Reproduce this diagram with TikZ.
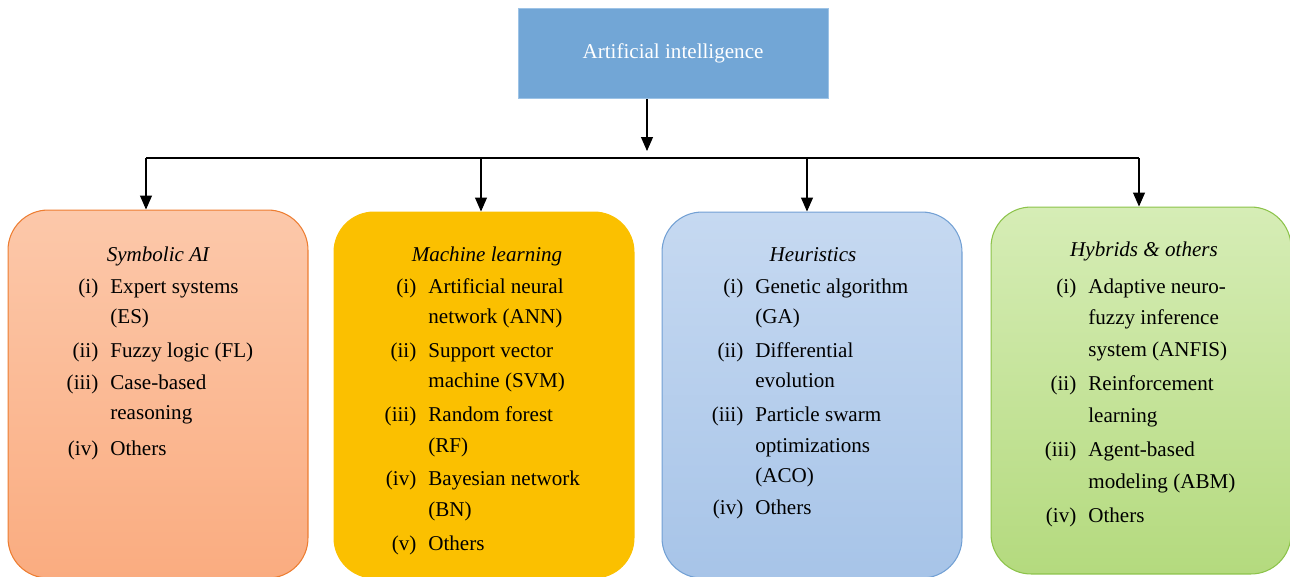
\documentclass[tikz,border=0pt]{standalone}
\usepackage{fontspec}
\setmainfont{Liberation Serif}
\usetikzlibrary{arrows.meta}

\definecolor{aiblue}{RGB}{114,166,214}
\definecolor{aiblueline}{RGB}{157,195,230}
\definecolor{symtop}{RGB}{252,200,170}
\definecolor{symbot}{RGB}{250,172,128}
\definecolor{symline}{RGB}{237,125,49}
\definecolor{mlgold}{RGB}{251,192,0}
\definecolor{heutop}{RGB}{198,217,241}
\definecolor{heubot}{RGB}{167,196,232}
\definecolor{heuline}{RGB}{114,160,212}
\definecolor{hybtop}{RGB}{214,237,182}
\definecolor{hybbot}{RGB}{180,218,126}
\definecolor{hybline}{RGB}{140,195,74}

\newcommand{\enumlbl}[1]{\llap{#1\hspace{0.24cm}}}

\begin{document}
\begin{tikzpicture}[x=0.02cm,y=-0.02cm,
	catbox/.style={rounded corners=0.8cm,minimum width=6cm,line width=0.6pt,inner sep=0pt},
	arr/.style={-{Triangle[length=0.28cm,width=0.24cm]},line width=0.6pt},
	bar/.style={line width=1pt},
	cattitle/.style={font=\fontsize{12}{17.3}\selectfont\itshape,anchor=base,inner sep=0pt},
	catlist/.style={font=\fontsize{12}{17.3}\selectfont,anchor=base west,inner sep=0pt}]
	\useasboundingbox (0,0) rectangle (1290,576);
	% draw top box
	\node[minimum width=6.2cm,minimum height=1.8cm,fill=aiblue,draw=aiblueline,text=white,font=\fontsize{12}{14}\selectfont] (ai) at (673,53.5) {\raisebox{-2.5pt}{Artificial intelligence}};
	% draw category boxes
	\node[catbox,minimum height=7.36cm,top color=symtop,bottom color=symbot,draw=symline] (sym) at (158,394) {};
	\node[catbox,minimum height=7.32cm,fill=mlgold,draw=mlgold] (ml) at (484,395) {};
	\node[catbox,minimum height=7.32cm,top color=heutop,bottom color=heubot,draw=heuline] (heu) at (812,395) {};
	\node[catbox,minimum height=7.34cm,top color=hybtop,bottom color=hybbot,draw=hybline] (hyb) at (1141,390.5) {};
	% draw connectors
	\coordinate (split) at (647,158);
	\coordinate (b1) at (146,158);
	\coordinate (b2) at (481,158);
	\coordinate (b3) at (807,158);
	\coordinate (b4) at (1139,158);
	\draw[arr,shorten >=0.14cm] (ai.south -| split) -- (split);
	\draw[bar] (b1) -- (b4);
	\draw[arr] (b1) -- (b1 |- sym.north);
	\draw[arr] (b2) -- (b2 |- ml.north);
	\draw[arr] (b3) -- (b3 |- heu.north);
	\draw[arr] (b4) -- (b4 |- hyb.north);
	% draw titles
	\node[cattitle] (sym-title) at (158,261) {Symbolic AI};
	\node[cattitle] (ml-title) at (487,261) {Machine learning};
	\node[cattitle] (heu-title) at (813,261) {Heuristics};
	\node[cattitle] (hyb-title) at (1144,256) {Hybrids \& others};
	% draw lists
	\node[catlist] (sym-list) at (110,293) {\begin{tabular}[t]{@{}l@{}}
		\enumlbl{(i)}Expert systems\\
		(ES)\\[2pt]
		\enumlbl{(ii)}Fuzzy logic (FL)\\[1pt]
		\enumlbl{(iii)}Case-based\\
		reasoning\\[3pt]
		\enumlbl{(iv)}Others
	\end{tabular}};
	\node[catlist] (ml-list) at (428,293) {\begin{tabular}[t]{@{}l@{}}
		\enumlbl{(i)}Artificial neural\\
		network (ANN)\\[2pt]
		\enumlbl{(ii)}Support vector\\
		machine (SVM)\\[2pt]
		\enumlbl{(iii)}Random forest\\
		(RF)\\[2pt]
		\enumlbl{(iv)}Bayesian network\\
		(BN)\\[2pt]
		\enumlbl{(v)}Others
	\end{tabular}};
	\node[catlist] (heu-list) at (755,293) {\begin{tabular}[t]{@{}l@{}}
		\enumlbl{(i)}Genetic algorithm\\
		(GA)\\[2pt]
		\enumlbl{(ii)}Differential\\
		evolution\\[2pt]
		\enumlbl{(iii)}Particle swarm\\
		optimizations\\
		(ACO)\\[1pt]
		\enumlbl{(iv)}Others
	\end{tabular}};
	\node[catlist,font=\fontsize{12}{18.2}\selectfont] (hyb-list) at (1088,293) {\begin{tabular}[t]{@{}l@{}}
		\enumlbl{(i)}Adaptive neuro-\\
		fuzzy inference\\
		system (ANFIS)\\[1pt]
		\enumlbl{(ii)}Reinforcement\\
		learning\\[1pt]
		\enumlbl{(iii)}Agent-based\\
		modeling (ABM)\\[1pt]
		\enumlbl{(iv)}Others
	\end{tabular}};
\end{tikzpicture}
\end{document}
